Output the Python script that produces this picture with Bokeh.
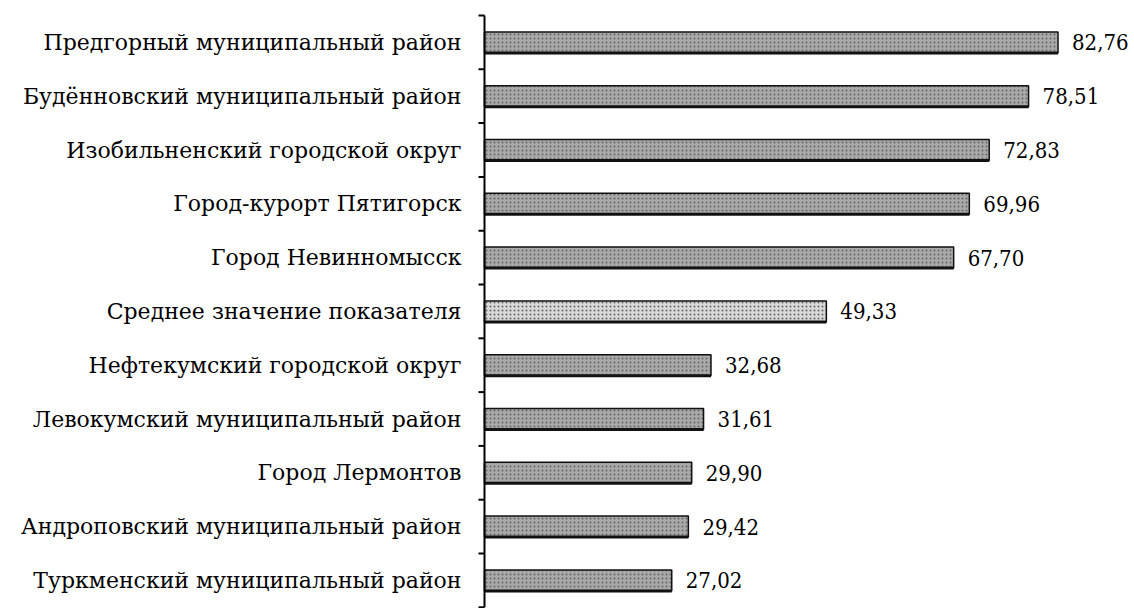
from bokeh.plotting import figure
from bokeh.models import Range1d, ColumnDataSource
from bokeh.embed import file_html
from bokeh.resources import INLINE
from bokeh.core.properties import value

categories = [
    "Предгорный муниципальный район",
    "Будённовский муниципальный район",
    "Изобильненский городской округ",
    "Город-курорт Пятигорск",
    "Город Невинномысск",
    "Среднее значение показателя",
    "Нефтекумский городской округ",
    "Левокумский муниципальный район",
    "Город Лермонтов",
    "Андроповский муниципальный район",
    "Туркменский муниципальный район",
]
values = [82.76, 78.51, 72.83, 69.96, 67.70, 49.33, 32.68, 31.61, 29.90, 29.42, 27.02]

n = len(categories)
ypos = [n - i - 0.5 for i in range(n)]
labels = [f"{v:.2f}".replace(".", ",") for v in values]
fills = ["#d9d9d9" if c.startswith("Среднее") else "#a9a9a9" for c in categories]
bar_h = 0.39

W, H = 1134, 608
axis_px, top_px, row_px, unit_px = 484, 15, 53.8, 6.93
x_start = -axis_px / unit_px
x_end = (W - axis_px) / unit_px
y_end = n + top_px / row_px
y_start = n - (H - top_px) / row_px
tick_len = 6 / unit_px

src = ColumnDataSource(dict(y=ypos, v=values, lab=labels, fill=fills, cat=categories,
                            zero=[0] * n, ybot=[y - bar_h / 2 for y in ypos]))
bounds = list(range(0, n + 1))
tsrc = ColumnDataSource(dict(y=bounds, x0=[-tick_len] * len(bounds), x1=[0] * len(bounds)))

p = figure(width=W, height=H, output_backend="svg", toolbar_location=None,
           x_range=Range1d(x_start, x_end), y_range=Range1d(y_start, y_end),
           min_border=0)
p.outline_line_color = None
p.grid.visible = False
p.axis.visible = False
p.background_fill_color = "white"
p.border_fill_color = "white"

p.hbar(y="y", right="v", left=0, height=bar_h, source=src, fill_color="fill",
       line_color="#111111", line_width=1.5,
       hatch_pattern="dot", hatch_color="#666666", hatch_scale=4, hatch_weight=1)
p.segment(x0=0, x1="v", y0="ybot", y1="ybot", source=src, line_color="#111111", line_width=3)

# axis line and boundary ticks
p.segment(x0=[0], x1=[0], y0=[0], y1=[n], line_color="black", line_width=2)
p.segment(x0="x0", x1="x1", y0="y", y1="y", source=tsrc, line_color="black", line_width=2)

# category labels
p.text(x="zero", y="y", text="cat", source=src, x_offset=-23, text_baseline="middle",
       text_align="right", text_font=value("DejaVu Serif"), text_font_size="22px",
       text_color="black")

# value labels
p.text(x="v", y="y", text="lab", source=src, x_offset=14, text_baseline="middle",
       text_align="left", text_font=value("DejaVu Serif Condensed"), text_font_size="22px",
       text_color="black")

open("out.html", "w").write(file_html(p, INLINE))
